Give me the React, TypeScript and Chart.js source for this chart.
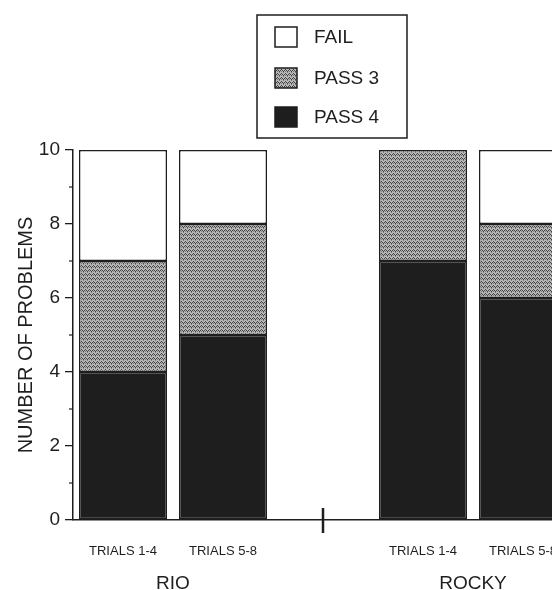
import React, { useEffect, useRef } from "react";
import { Chart, registerables } from "chart.js";

Chart.register(...registerables);

const categories = ["TRIALS 1-4", "TRIALS 5-8", "", "TRIALS 1-4", "TRIALS 5-8"];
const groups = ["RIO", "ROCKY"];
const pass4 = [4, 5, null, 7, 6];
const pass3 = [3, 3, null, 3, 2];
const fail = [3, 2, null, 0, 2];
const yTitle = "NUMBER OF PROBLEMS";

const FONT = '"Liberation Sans", Arial, sans-serif';
const INK = "#1e1e1e";

function makePattern(): CanvasPattern | string {
  const c = document.createElement("canvas");
  c.width = 4;
  c.height = 4;
  const g = c.getContext("2d");
  if (!g) return "#999";
  g.fillStyle = "#b8b8b8";
  g.fillRect(0, 0, 4, 4);
  g.fillStyle = "#404040";
  // chevron-like speckle
  g.fillRect(0, 2, 1, 1);
  g.fillRect(1, 1, 1, 1);
  g.fillRect(2, 2, 1, 1);
  g.fillRect(3, 3, 1, 1);
  g.fillStyle = "#7a7a7a";
  g.fillRect(1, 3, 1, 1);
  g.fillRect(3, 0, 1, 1);
  const p = g.createPattern(c, "repeat");
  return p || "#999";
}

export default function App() {
  const ref = useRef<HTMLCanvasElement>(null);

  useEffect(() => {
    if (!ref.current) return;
    const pattern = makePattern();

    const decor = {
      id: "decor",
      afterDraw(chart: any) {
        const ctx = chart.ctx;
        const xs = chart.scales.x;
        const ys = chart.scales.y;
        const area = chart.chartArea;
        ctx.save();
        // minor y ticks
        ctx.strokeStyle = INK;
        ctx.lineWidth = 1.2;
        [1, 3, 5, 7, 9].forEach((v) => {
          const y = ys.getPixelForValue(v);
          ctx.beginPath();
          ctx.moveTo(area.left - 4, y);
          ctx.lineTo(area.left, y);
          ctx.stroke();
        });
        // separator mark at empty category
        const mx = xs.getPixelForValue(2);
        ctx.lineWidth = 2.5;
        ctx.beginPath();
        ctx.moveTo(mx, area.bottom - 12);
        ctx.lineTo(mx, area.bottom + 13);
        ctx.stroke();
        // y title
        ctx.fillStyle = INK;
        ctx.font = `20px ${FONT}`;
        ctx.textAlign = "center";
        ctx.textBaseline = "middle";
        ctx.save();
        ctx.translate(18, (area.top + area.bottom) / 2);
        ctx.rotate(-Math.PI / 2);
        ctx.fillText(yTitle, 0, 0);
        ctx.restore();
        // group labels
        ctx.font = `19px ${FONT}`;
        const gx0 = (xs.getPixelForValue(0) + xs.getPixelForValue(1)) / 2;
        const gx1 = (xs.getPixelForValue(3) + xs.getPixelForValue(4)) / 2;
        ctx.fillText(groups[0], gx0, 576);
        ctx.fillText(groups[1], gx1, 576);
        // legend
        const bx = 249, by = 7, bw = 150, bh = 123;
        ctx.lineWidth = 1.5;
        ctx.strokeStyle = INK;
        ctx.strokeRect(bx, by, bw, bh);
        const ds = chart.data.datasets.slice().reverse();
        const rows = [29, 70, 109];
        ctx.textAlign = "left";
        ctx.font = `19px ${FONT}`;
        ds.forEach((d: any, i: number) => {
          const cy = rows[i];
          ctx.fillStyle = d.backgroundColor;
          ctx.fillRect(267, cy - 10, 22, 20);
          ctx.lineWidth = 1.5;
          ctx.strokeRect(267, cy - 10, 22, 20);
          ctx.fillStyle = INK;
          ctx.fillText(d.label, 306, cy + 1);
        });
        ctx.restore();
      },
    };

    const chart = new Chart(ref.current, {
      type: "bar",
      data: {
        labels: categories,
        datasets: [
          { label: "PASS 4", data: pass4, backgroundColor: INK, borderColor: INK, borderWidth: 1.5, borderSkipped: false },
          { label: "PASS 3", data: pass3, backgroundColor: pattern as any, borderColor: INK, borderWidth: 1.5, borderSkipped: false },
          { label: "FAIL", data: fail, backgroundColor: "#ffffff", borderColor: INK, borderWidth: 1.5, borderSkipped: false },
        ],
      },
      options: {
        responsive: false,
        animation: false,
        layout: { padding: { top: 142, right: 25, left: 0, bottom: 0 } },
        plugins: { legend: { display: false }, tooltip: { enabled: false } },
        datasets: { bar: { barPercentage: 0.88, categoryPercentage: 1 } },
        scales: {
          x: {
            stacked: true,
            grid: { display: false, drawTicks: false },
            border: { display: true, color: INK, width: 1.5 },
            ticks: { color: INK, font: { family: FONT, size: 13 }, padding: 24, maxRotation: 0, autoSkip: false },
            afterFit: (s: any) => { s.height = 70; },
          },
          y: {
            stacked: true,
            min: 0,
            max: 10,
            grid: {
              drawOnChartArea: false,
              tickLength: 8,
              lineWidth: 1.3,
              color: (c: any) => (c.tick && c.tick.value % 2 === 0 ? INK : "rgba(0,0,0,0)"),
            },
            border: { display: true, color: INK, width: 1.5 },
            ticks: {
              stepSize: 1,
              padding: 5,
              color: INK,
              font: { family: FONT, size: 19 },
              callback: (v: any) => (Number(v) % 2 === 0 ? String(v) : ""),
            },
            afterFit: (s: any) => { s.width = 65; },
          },
        },
      },
      plugins: [decor],
    } as any);

    return () => chart.destroy();
  }, []);

  return (
    <div style={{ width: 552, height: 582, overflow: "hidden" }}>
      <canvas ref={ref} width={590} height={582} style={{ display: "block" }} />
    </div>
  );
}
